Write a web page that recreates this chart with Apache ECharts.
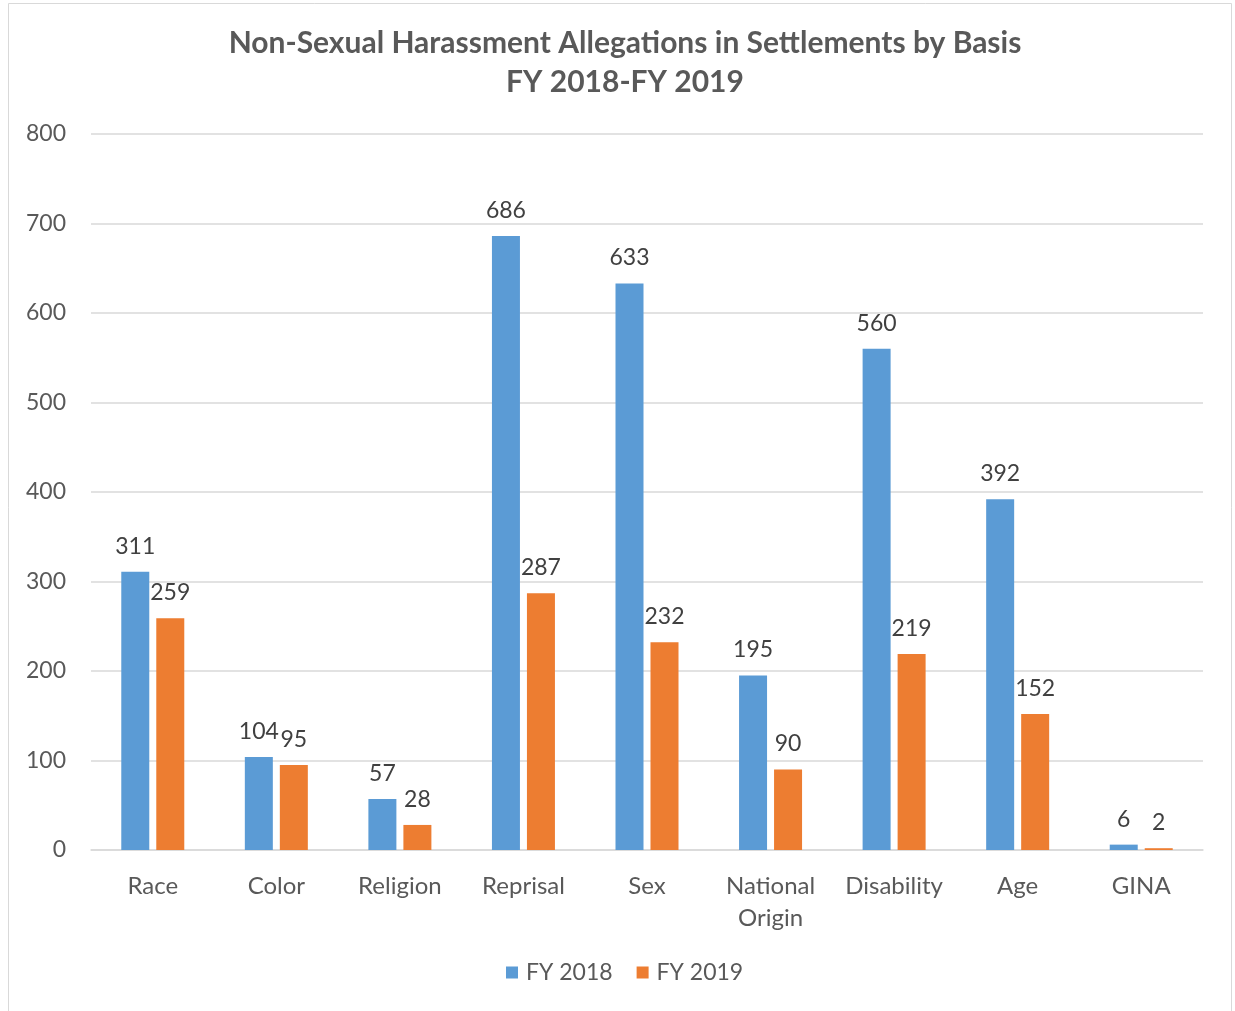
<!DOCTYPE html>
<html>
<head>
<meta charset="utf-8">
<script src="https://cdn.jsdelivr.net/npm/echarts@6/dist/echarts.min.js"></script>
<style>
  html, body { margin: 0; padding: 0; background: #fff; }
  #chart { width: 1235px; height: 1011px; }
</style>
</head>
<body>
<div id="chart"></div>
<script>
// Allegation counts by basis, two fiscal years
const categories = ['Race', 'Color', 'Religion', 'Reprisal', 'Sex', 'National\nOrigin', 'Disability', 'Age', 'GINA'];
const fy2018 = [311, 104, 57, 686, 633, 195, 560, 392, 6];
const fy2019 = [259, 95, 28, 287, 232, 90, 219, 152, 2];
const yTicks = [0, 100, 200, 300, 400, 500, 600, 700, 800];

const FONT = 'Lato, "Open Sans", sans-serif';
const TEXT = '#595959';

const chart = echarts.init(document.getElementById('chart'), null, { renderer: 'canvas' });

chart.setOption({
  backgroundColor: '#ffffff',
  animation: false,
  graphic: [{
    type: 'rect',
    shape: { x: 8.5, y: 3.5, width: 1223, height: 1030 },
    style: { fill: 'none', stroke: '#d9d9d9', lineWidth: 1 },
    silent: true,
    z: -1
  }],
  title: {
    text: 'Non-Sexual Harassment Allegations in Settlements by Basis\nFY 2018-FY 2019',
    left: 620,
    textAlign: 'center',
    top: 19,
    textStyle: {
      fontFamily: FONT,
      fontSize: 30,
      fontWeight: 'bold',
      color: TEXT,
      lineHeight: 39
    }
  },
  legend: {
    bottom: 27,
    left: 506,
    padding: 0,
    itemWidth: 12,
    itemHeight: 12,
    itemGap: 24,
    icon: 'rect',
    textStyle: { fontFamily: FONT, fontSize: 23, color: TEXT, padding: [0, 0, 0, 3] }
  },
  grid: { left: 91, right: 32, top: 134, bottom: 161, containLabel: false },
  xAxis: {
    type: 'category',
    data: categories,
    axisLine: { lineStyle: { color: '#d9d9d9', width: 1.5 } },
    axisTick: { show: false },
    axisLabel: {
      interval: 0,
      fontFamily: FONT, fontSize: 24, color: TEXT, margin: 20, lineHeight: 32
    }
  },
  yAxis: {
    type: 'value',
    min: yTicks[0],
    max: yTicks[yTicks.length - 1],
    interval: yTicks[1] - yTicks[0],
    axisLine: { show: false },
    axisTick: { show: false },
    splitLine: { lineStyle: { color: '#d9d9d9', width: 1.5 } },
    axisLabel: { fontFamily: FONT, fontSize: 23, color: TEXT, margin: 25 }
  },
  series: [
    {
      name: 'FY 2018',
      type: 'bar',
      data: fy2018,
      barWidth: 28,
      barGap: '25%',
      itemStyle: { color: '#5b9bd5' },
      label: {
        show: true, position: 'top', distance: 14,
        fontFamily: FONT, fontSize: 23, color: '#404040'
      }
    },
    {
      name: 'FY 2019',
      type: 'bar',
      data: fy2019,
      barWidth: 28,
      itemStyle: { color: '#ed7d31' },
      label: {
        show: true, position: 'top', distance: 14,
        fontFamily: FONT, fontSize: 23, color: '#404040'
      }
    }
  ]
});
</script>
</body>
</html>
